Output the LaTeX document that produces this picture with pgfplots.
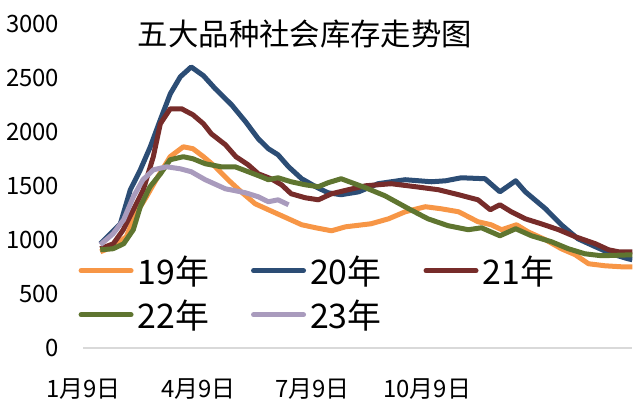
\documentclass[border=0pt]{standalone}
\usepackage{fontspec}
\usepackage{pgfplots}
\pgfplotsset{compat=1.18}
\setmainfont{Noto Sans CJK SC}

\definecolor{c19}{HTML}{F79646}
\definecolor{c20}{HTML}{2C4D75}
\definecolor{c21}{HTML}{772C2A}
\definecolor{c22}{HTML}{5F7530}
\definecolor{c23}{HTML}{A99BBD}
\definecolor{axisgray}{HTML}{D9D9D9}

\begin{document}
\begin{tikzpicture}[x=1bp,y=1bp]
\useasboundingbox (0,0) rectangle (634,405);
\node[font=\fontsize{30.5}{30.5}\selectfont] at (305,371) {五大品种社会库存走势图};
\begin{axis}[
    at={(95,53)}, anchor=south west,
    scale only axis, width=549bp, height=324bp,
    xmin=0, xmax=62.6, ymin=0, ymax=3000,
    axis x line=bottom, axis y line=left,
    x axis line style={-, draw=axisgray, line width=1.5bp},
    y axis line style={draw=none},
    major tick length=0,
    ytick={0,500,...,3000},
    xtick={0,13.1,26.1,39.2},
    xticklabels={1月9日,4月9日,7月9日,10月9日},
    /pgf/number format/assume math mode=true,
    /pgf/number format/1000 sep={},
    ticklabel style={font=\fontsize{24}{24}\selectfont, inner sep=0pt},
    yticklabel style={anchor=east, xshift=-24bp},
    xticklabel style={anchor=north, yshift=-31bp},
    legend columns=3,
    legend cell align=left,
    legend style={draw=none, fill=none, at={(axis description cs:-0.009,0.285)}, anchor=north west,
        font=\fontsize{34}{34}\selectfont, inner sep=0pt, row sep=14bp,
        nodes={inner xsep=4bp, inner ysep=0pt},
        /tikz/every even column/.append style={column sep=38bp}},
    legend image code/.code={\draw[#1, line width=5bp, line cap=round] (0,0) -- (50bp,0);},
    every axis plot/.append style={line width=5bp, line join=round, no markers},
]
\addplot[c19] coordinates {
(1.94,889) (3.4,935) (4.9,1028) (6.0,1241) (7.2,1398) (8.3,1556) (9.9,1769)
(11.4,1861) (12.5,1843) (13.7,1769) (15.05,1676) (16.5,1556) (18.0,1444)
(19.6,1333) (21.1,1278) (23.4,1194) (24.9,1139) (26.5,1111) (28.3,1083)
(29.9,1120) (32.8,1148) (34.8,1194) (36.7,1259) (39.0,1306) (40.8,1287)
(42.8,1259) (45.0,1167) (46.5,1139) (47.7,1093) (49.4,1139) (50.7,1074)
(52.7,1000) (54.5,917) (56.1,861) (57.6,778) (59.5,759) (61.3,750) (62.6,750)
};
\addlegendentry{19年}
\addplot[c20] coordinates {
(1.94,963) (4.22,1148) (5.36,1463) (6.5,1648) (7.64,1861) (8.78,2111)
(9.92,2352) (11.06,2509) (12.3,2600) (13.7,2519) (15.05,2398) (16.9,2250)
(18.5,2093) (19.95,1935) (21.1,1843) (22.2,1787) (23.4,1676) (24.9,1565)
(26.5,1491) (27.9,1435) (29.4,1417) (31.4,1444) (33.6,1519) (36.7,1556)
(39.7,1537) (41.3,1546) (43.1,1574) (45.8,1565) (47.5,1444) (49.3,1546)
(50.4,1444) (52.7,1287) (54.5,1139) (56.4,1009) (58.4,935) (60.2,870)
(62.1,824) (62.6,815)
};
\addlegendentry{20年}
\addplot[c21] coordinates {
(1.94,917) (3.42,963) (4.56,1093) (5.7,1278) (6.84,1463) (7.98,1769)
(8.78,2074) (9.92,2213) (11.2,2213) (12.5,2157) (13.7,2074) (14.6,1981)
(16.2,1880) (17.4,1769) (18.8,1694) (19.95,1611) (21.4,1565) (22.6,1509)
(23.7,1426) (25.3,1389) (26.8,1370) (28.3,1426) (30.2,1463) (32.2,1500)
(35.1,1519) (37.9,1491) (40.5,1463) (42.8,1417) (45.0,1370) (46.4,1278)
(47.5,1324) (48.8,1259) (50.4,1194) (52.2,1148) (54.2,1093) (56.1,1028)
(58.4,963) (59.9,907) (61.0,889) (62.6,889)
};
\addlegendentry{21年}
\addplot[c22] coordinates {
(1.94,907) (3.4,917) (4.6,963) (5.7,1093) (6.5,1306) (7.6,1491) (8.8,1611)
(9.9,1741) (11.4,1769) (12.5,1750) (13.9,1704) (15.7,1676) (17.3,1676)
(18.8,1630) (20.3,1583) (21.1,1556) (22.2,1574) (23.7,1537) (25.3,1509)
(26.8,1491) (27.9,1528) (29.4,1565) (32.2,1481) (34.4,1407) (37.1,1287)
(39.3,1194) (41.6,1130) (43.9,1093) (45.4,1111) (47.5,1037) (49.3,1102)
(51.1,1037) (53.4,981) (55.3,917) (57.2,870) (59.1,852) (62.6,861)
};
\addlegendentry{22年}
\addplot[c23] coordinates {
(1.94,954) (3.4,1056) (4.6,1185) (5.7,1398) (6.8,1556) (8.0,1648) (9.5,1676)
(11.06,1657) (12.3,1630) (13.9,1556) (16.2,1472) (18.5,1435) (19.95,1398)
(21.1,1352) (22.2,1370) (23.4,1324)
};
\addlegendentry{23年}
\end{axis}
\end{tikzpicture}
\end{document}
